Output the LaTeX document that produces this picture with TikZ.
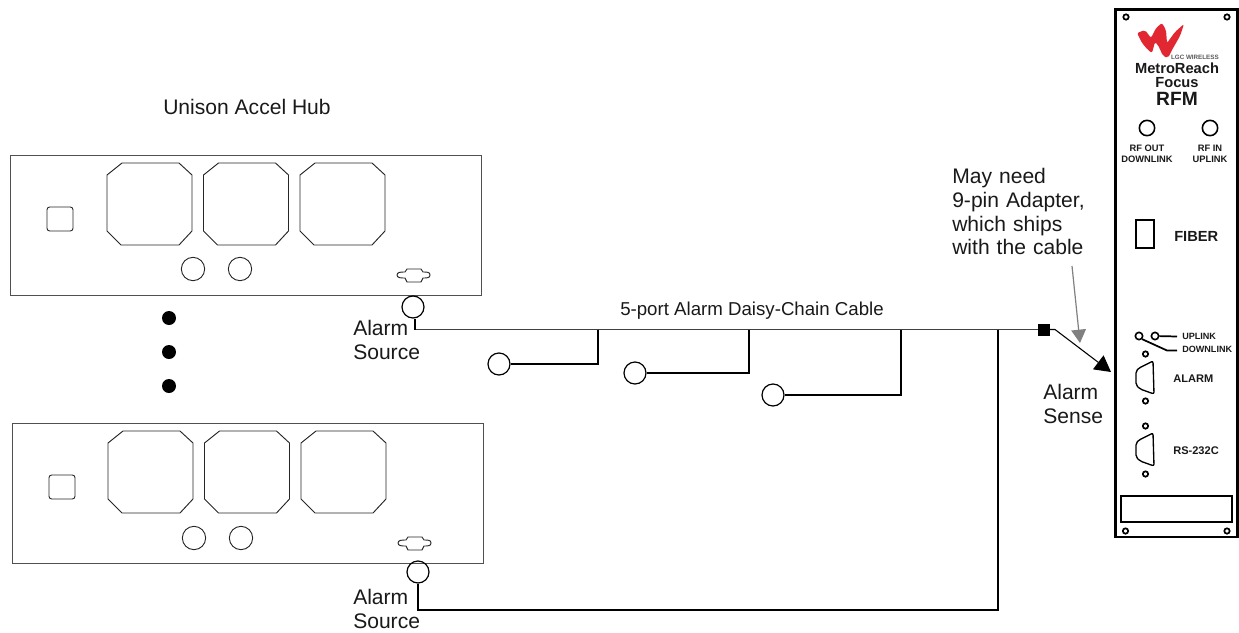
\documentclass[tikz,border=0pt]{standalone}
\usepackage{fontspec}
\setmainfont{Liberation Sans}
\usetikzlibrary{arrows.meta}
\definecolor{logored}{RGB}{225,40,50}
\definecolor{boxline}{RGB}{80,80,80}
\tikzset{
  x=0.75pt,y=-0.75pt,
  hubbox/.style={draw=boxline,line width=0.7pt},
  part/.style={draw=black!85,line width=0.7pt},
  jack/.style={circle,draw=black,line width=0.9pt,minimum size=16.5pt,inner sep=0pt},
  knob/.style={circle,draw=black!85,line width=0.7pt,minimum size=17.5pt,inner sep=0pt},
  port/.style={circle,draw=black,line width=1.2pt,minimum size=11.5pt,inner sep=0pt},
  screw/.style={circle,draw=black,line width=1.3pt,minimum size=4pt,inner sep=0pt},
  wire/.style={draw=black,line width=1.3pt},
  trunk/.style={draw=black!75,line width=1.3pt},
  lab/.style={font=\fontsize{15.8}{17.8}\selectfont,align=left,inner sep=0pt,text=black!90},
  plab/.style={font=\bfseries\fontsize{7}{8.3}\selectfont,align=center,inner sep=0pt,text=black!90},
  flab/.style={font=\bfseries\fontsize{11}{13}\selectfont,inner sep=0pt,text=black!90},
  slab/.style={font=\bfseries\fontsize{8.3}{10}\selectfont,inner sep=0pt,text=black!90},
  dot/.style={circle,fill=black,minimum size=10.5pt,inner sep=0pt},
}
\newcommand{\octa}[2]{% left x, top y
  \draw[part] (#1,#2+12) -- (#1+15,#2) -- (#1+72,#2) -- (#1+85,#2+12) -- (#1+85,#2+68) -- (#1+72,#2+82) -- (#1+14,#2+82) -- (#1,#2+68) -- cycle;}
\newcommand{\subd}[2]{% left x, centre y
  \draw[part] (#1,#2) .. controls (#1,#2-3) and (#1+4,#2-3) .. (#1+8,#2-3) -- (#1+10,#2-6) -- (#1+24,#2-6) -- (#1+26,#2-3) .. controls (#1+30,#2-3) and (#1+33,#2-3) .. (#1+33,#2) .. controls (#1+33,#2+3) and (#1+30,#2+3) .. (#1+26,#2+3) -- (#1+24,#2+7) -- (#1+10,#2+7) -- (#1+8,#2+3) .. controls (#1+4,#2+3) and (#1,#2+3) .. (#1,#2) -- cycle;}
\newcommand{\dsub}[2]{% left x, top y
  \draw[draw=black,line width=1pt,rounded corners=1.5pt] (#1+3,#2+7) -- (#1+17,#2) -- (#1+18,#2+33) -- (#1+4,#2+28) -- (#1,#2+24) -- (#1,#2+10) -- cycle;}
\begin{document}
\begin{tikzpicture}
\useasboundingbox (0,0) rectangle (1239,632);
% hub 1
\node[lab,anchor=center] (hubtitle) at (247,107) {Unison Accel Hub};
\draw[hubbox] (10,155) rectangle (481,295);
\octa{107}{163}\octa{203.5}{163}\octa{300}{163}
\draw[part,rounded corners=2pt] (47,207) rectangle (73,231);
\node[knob] (k1) at (193,269) {};
\node[knob] (k2) at (240,269) {};
\subd{397}{275}
% dots
\node[dot] (d1) at (169,318) {};
\node[dot] (d2) at (169,352) {};
\node[dot] (d3) at (169,386) {};
% hub 2
\draw[hubbox] (12,423) rectangle (483,563);
\octa{108}{431}\octa{204.5}{431}\octa{301}{431}
\draw[part,rounded corners=2pt] (49,475) rectangle (75,499);
\node[knob] (k3) at (194,538) {};
\node[knob] (k4) at (241,538) {};
\subd{398}{543}
% jacks and cables
\node[jack] (j1) at (413,307) {};
\node[jack] (j2) at (418,572) {};
\node[jack] (b1) at (499,364) {};
\node[jack] (b2) at (635,373) {};
\node[jack] (b3) at (773,395) {};
\node[draw=black,fill=black,minimum size=8pt,inner sep=0pt] (plug) at (1044,329.5) {};
\coordinate (c1) at (415,329.5);
\coordinate (t1) at (598,329.5);
\coordinate (t2) at (749,329.5);
\coordinate (t3) at (901,329.5);
\coordinate (t4) at (998,329.5);
\draw[trunk] (c1) -- (plug);
\draw[wire] (j1.south -| c1) -- (c1);
\draw[wire] (t1) -- (t1 |- b1) -- (b1);
\draw[wire] (t2) -- (t2 |- b2) -- (b2);
\draw[wire] (t3) -- (t3 |- b3) -- (b3);
\coordinate (c2) at (418,610);
\draw[wire] (j2.south) -- (c2) -- (c2 -| t4) -- (t4);
\coordinate (alarmend) at (1111,372);
\draw[draw=black,line width=0.8pt,-{Triangle[length=12pt,width=13pt]}] (plug.east) -- (1055,329.5) -- (alarmend);
\coordinate (g1) at (1072,266);
\coordinate (g2) at (1080,343);
\draw[draw=gray,line width=0.9pt,-{Triangle[length=10pt,width=11pt]}] (g1) -- (g2);
% texts
\node[font=\fontsize{14}{17}\selectfont,inner sep=0pt,text=black!90,anchor=west] (ttl) at (620,311) {5-port Alarm Daisy-Chain Cable};
\node[lab,anchor=north west,text width=130pt] (a1) at (353,320) {Alarm\\Source};
\node[lab,anchor=north west,text width=130pt] (a2) at (353,589) {Alarm\\Source};
\node[lab,anchor=north west,text width=130pt] (a3) at (1043,384) {Alarm\\Sense};
\node[lab,anchor=north west,text width=130pt] (note) at (952,168) {May need\\9-pin Adapter,\\which ships\\with the cable};
% panel
\draw[draw=black,line width=1.9pt] (1115.5,9.5) rectangle (1237.5,537);
\foreach \n/\x/\y in {s1/1126/17,s2/1227/17,s3/1125.5/531,s4/1227/531,s5/1145.5/354,s6/1145.5/401,s7/1145.5/426,s8/1145.5/474}
  \node[screw] (\n) at (\x,\y) {};
% logo
\fill[logored,rounded corners=1.5pt] (1137,33) -- (1145,30) -- (1151,38) -- (1156,28) -- (1162,23) -- (1166,30) -- (1167,43) -- (1175,32) -- (1184,24) -- (1180,36) -- (1172,50) -- (1168,58) -- (1163,56) -- (1158,45) -- (1155,42) -- (1152,53) -- (1148,50) -- (1142,43) -- cycle;
\node[font=\bfseries\fontsize{4.7}{6}\selectfont,text=black!65,inner sep=0pt,anchor=east] (lgc) at (1219,57) {LGC WIRELESS};
\node[font=\bfseries\fontsize{11}{13}\selectfont,inner sep=0pt,text=black!90] (mr) at (1177,68) {MetroReach};
\node[font=\bfseries\fontsize{11}{13}\selectfont,inner sep=0pt,text=black!90] (fc) at (1177,83) {Focus};
\node[font=\bfseries\fontsize{14.4}{16}\selectfont,inner sep=0pt,text=black!90] (rfm) at (1177,99) {RFM};
\node[port] (rf1) at (1147,128) {};
\node[port] (rf2) at (1210,128) {};
\node[plab] (rfo) at (1147,154) {RF OUT\\DOWNLINK};
\node[plab] (rfi) at (1210,154) {RF IN\\UPLINK};
\draw[draw=black,line width=1.1pt] (1136,220) rectangle (1154,248);
\node[flab,anchor=west] (fib) at (1174,236) {FIBER};
\node[port,minimum size=5.5pt] (u1) at (1139,336) {};
\node[port,minimum size=5.5pt] (u2) at (1155,336) {};
\node[plab,font=\bfseries\fontsize{6.8}{8}\selectfont,anchor=west] (up) at (1182,336.5) {UPLINK};
\node[plab,font=\bfseries\fontsize{6.8}{8}\selectfont,anchor=west] (dn) at (1182,349.5) {DOWNLINK};
\coordinate (upw) at (1177,336.5);
\coordinate (dnw) at (1177,350.5);
\draw[wire] (u2) -- (upw);
\draw[wire] (u1.south east) -- (1167,350.5) -- (dnw);
\dsub{1136}{361}
\dsub{1136}{433}
\node[slab,anchor=west] (al) at (1173,379) {ALARM};
\node[slab,anchor=west] (rs) at (1173,451) {RS-232C};
\draw[draw=black,line width=1.2pt] (1121,496) rectangle (1232,522);
\end{tikzpicture}
\end{document}
